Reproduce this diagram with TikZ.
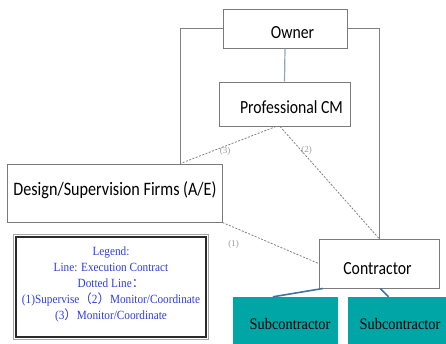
\documentclass[tikz,border=0pt]{standalone}
\usepackage{fontspec}
\setmainfont{Liberation Serif}
\newfontfamily\boxfont[FakeStretch=0.85]{Carlito}
\newfontfamily\narrowserif[FakeStretch=0.9]{Liberation Serif}
\newfontfamily\cjk{Noto Sans CJK SC}
\newcommand\fw[1]{{\cjk #1}}
\usetikzlibrary{calc}
\definecolor{boxgray}{HTML}{7A7A7A}
\definecolor{linegray}{HTML}{808080}
\definecolor{cmlink}{HTML}{8FA3BF}
\definecolor{sublink}{HTML}{3C74A4}
\definecolor{subfill}{HTML}{00A5A5}
\definecolor{legendblue}{RGB}{45,60,235}
\definecolor{legendedge}{HTML}{2B2B2B}
\definecolor{notegray}{HTML}{9A9A9A}
\tikzset{
  box/.style={draw=boxgray, line width=1pt, fill=white, inner sep=0pt},
  subbox/.style={fill=subfill, inner sep=0pt},
  boxtext/.style={anchor=base, inner sep=0pt, font=\boxfont\fontsize{18.5}{21}\selectfont},
  subtext/.style={anchor=base, inner sep=0pt, font=\narrowserif\fontsize{16}{18}\selectfont},
  contract/.style={draw=linegray, line width=1pt},
  cmline/.style={draw=cmlink, line width=1.2pt},
  subline/.style={draw=sublink, line width=1.6pt},
  dotline/.style={draw=linegray, line width=0.8pt, dash pattern=on 2pt off 1.5pt},
  note/.style={inner sep=0pt, text=notegray, font=\fontsize{9}{10}\selectfont},
}
\begin{document}
\begin{tikzpicture}[x=1pt, y=-1pt]
\useasboundingbox (0,0) rectangle (446,343);
\clip (0,0) rectangle (446,343);

% organisation boxes
\node[box, minimum width=124pt, minimum height=39pt] (owner) at (285,28.5) {};
\node[box, minimum width=131pt, minimum height=44pt] (cm) at (284.5,104) {};
\node[box, minimum width=215pt, minimum height=58pt] (design) at (114.5,193) {};
\node[box, minimum width=120pt, minimum height=49pt] (contractor) at (379,263.5) {};
\node[subbox, minimum width=105pt, minimum height=54pt] (sub1) at (285.5,324) {};
\node[subbox, minimum width=104pt, minimum height=54pt] (sub2) at (400,324) {};

% box captions
\node[boxtext] (ownerT) at (292.5,38) {Owner};
\node[boxtext] (cmT) at (291.5,113) {Professional CM};
\node[boxtext, font=\boxfont\fontsize{19}{21}\selectfont] (designT) at (115,195) {Design/Supervision Firms (A/E)};
\node[boxtext] (contractorT) at (377.5,274) {Contractor};
\node[subtext] (sub1T) at (290,329) {Subcontractor};
\node[subtext] (sub2T) at (400,329) {Subcontractor};

% execution contracts
\coordinate (aeTop) at ($(design.north west)!0.805!(design.north east)$);
\draw[contract] (owner.west) -| (aeTop);
\draw[contract] (owner.east) -| (contractor.north);
\draw[cmline] (owner.south) -- (cm.north);
\draw[subline] ($(contractor.south west)!0.035!(contractor.south east)$) -- ($(sub1.north west)!0.38!(sub1.north east)$);
\draw[subline] ($(contractor.south west)!0.51!(contractor.south east)$) -- ($(sub2.north west)!0.39!(sub2.north east)$);

% supervision and coordination
\draw[dotline] ($(cm.south west)!0.435!(cm.south east)$) -- (aeTop);
\draw[dotline] ($(cm.south west)!0.466!(cm.south east)$) -- (contractor.north);
\draw[dotline] (design.south east) -- (contractor.west);
\node[note] (n3) at (225,151) {(3)};
\node[note] (n2) at (306.5,150) {(2)};
\node[note] (n1) at (233.5,244) {(1)};

% legend
\node[draw=legendedge, line width=2.2pt, minimum width=190pt, minimum height=100pt, inner sep=0pt] (legend) at (111,287) {};
\draw[draw=black!35, line width=0.6pt] ([shift={(-1.6,1.6)}]legend.south west) rectangle ([shift={(1.6,-1.6)}]legend.north east);
\node[align=center, inner sep=0pt, text=legendblue, font=\narrowserif\fontsize{12.5}{16}\selectfont] (legendT) at (111,284)
  {Legend:\\Line: Execution Contract\\Dotted Line\fw{：}\\(1)Supervise\fw{（}2\fw{）}Monitor/Coordinate\\(3\fw{）}Monitor/Coordinate};
\end{tikzpicture}
\end{document}
